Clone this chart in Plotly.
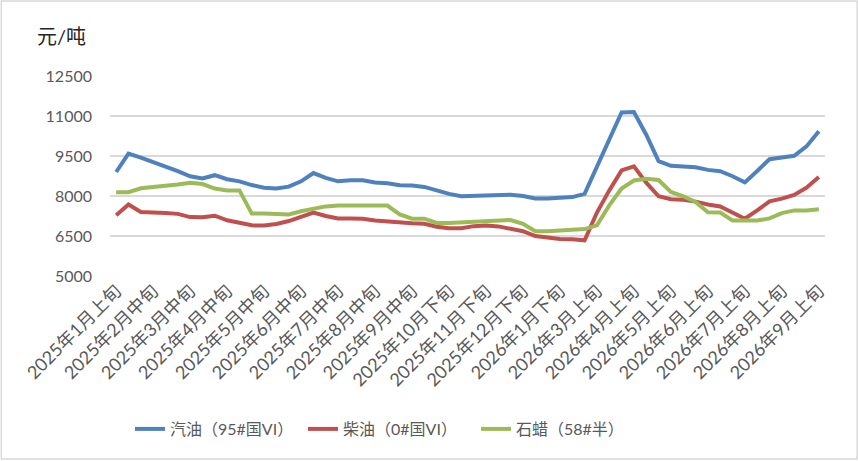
import plotly.graph_objs as go

# 旬度日期（横轴类目）
dates = [
    '2025年1月上旬', '2025年1月中旬', '2025年2月上旬', '2025年2月中旬', '2025年2月下旬',
    '2025年3月上旬', '2025年3月中旬', '2025年3月下旬', '2025年4月上旬', '2025年4月中旬',
    '2025年4月下旬', '2025年5月上旬', '2025年5月中旬', '2025年5月下旬', '2025年6月上旬',
    '2025年6月中旬', '2025年6月下旬', '2025年7月上旬', '2025年7月中旬', '2025年7月下旬',
    '2025年8月上旬', '2025年8月中旬', '2025年8月下旬', '2025年9月上旬', '2025年9月中旬',
    '2025年9月下旬', '2025年10月中旬', '2025年10月下旬', '2025年11月上旬', '2025年11月中旬',
    '2025年11月下旬', '2025年12月上旬', '2025年12月中旬', '2025年12月下旬', '2026年1月上旬',
    '2026年1月中旬', '2026年1月下旬', '2026年2月上旬', '2026年2月下旬', '2026年3月上旬',
    '2026年3月中旬', '2026年3月下旬', '2026年4月上旬', '2026年4月中旬', '2026年4月下旬',
    '2026年5月上旬', '2026年5月中旬', '2026年5月下旬', '2026年6月上旬', '2026年6月中旬',
    '2026年6月下旬', '2026年7月上旬', '2026年7月中旬', '2026年7月下旬', '2026年8月上旬',
    '2026年8月中旬', '2026年8月下旬', '2026年9月上旬',
]

gasoline = [
    8900, 9590, 9440, 9280, 9090, 8930, 8740, 8660, 8780, 8630,
    8550, 8410, 8310, 8280, 8350, 8550, 8860, 8680, 8550, 8590,
    8590, 8510, 8480, 8400, 8390, 8340, 8210, 8080, 7990, 8010,
    8030, 8050, 8050, 8000, 7910, 7910, 7930, 7960, 8080, 9100,
    10130, 11130, 11150, 10300, 9310, 9130, 9110, 9080, 8980, 8930,
    8740, 8510, 8940, 9380, 9440, 9510, 9860, 10430,
]

diesel = [
    7280, 7680, 7400, 7390, 7360, 7330, 7210, 7200, 7260, 7090,
    7010, 6900, 6890, 6950, 7060, 7210, 7380, 7250, 7160, 7160,
    7150, 7080, 7040, 7000, 6980, 6960, 6850, 6790, 6790, 6870,
    6890, 6860, 6780, 6680, 6500, 6450, 6390, 6380, 6340, 7380,
    8210, 8960, 9110, 8500, 7990, 7880, 7860, 7790, 7680, 7610,
    7400, 7150, 7460, 7800, 7900, 8040, 8310, 8710,
]

wax = [
    8140, 8140, 8290, 8330, 8360, 8430, 8500, 8450, 8280, 8210,
    8210, 7340, 7340, 7340, 7310, 7430, 7510, 7610, 7640, 7640,
    7640, 7640, 7640, 7310, 7150, 7150, 6990, 6990, 7010, 7040,
    7060, 7100, 7100, 6960, 6680, 6680, 6690, 6730, 6760, 6900,
    7650, 8280, 8580, 8650, 8600, 8150, 7990, 7780, 7390, 7380,
    7080, 7080, 7080, 7160, 7360, 7460, 7460, 7500,
]

series_names = ['汽油（95#国VI）', '柴油（0#国VI）', '石蜡（58#半）']
colors = ['#4F81BD', '#C0504D', '#9BBB59']

FONT = 'Lato, Noto Sans CJK SC, sans-serif'

fig = go.Figure()
for name, vals, c in zip(series_names, [gasoline, diesel, wax], colors):
    fig.add_trace(go.Scatter(x=dates, y=vals, name=name, mode='lines',
                             line=dict(color=c, width=4)))

# 每隔3个类目显示一个标签
shown = dates[::3]

fig.update_layout(
    width=858, height=461,
    margin=dict(l=110, r=33, t=76, b=185),
    paper_bgcolor='white', plot_bgcolor='white',
    font=dict(family=FONT, color='#595959'),
    showlegend=True,
    legend=dict(orientation='h', x=0.028, xanchor='left', y=-0.765, yanchor='middle',
                font=dict(size=16, color='#595959'), entrywidth=128),
    xaxis=dict(type='category', range=[-0.5, len(dates) - 0.5],
               tickmode='array', tickvals=shown, ticktext=shown,
               tickangle=-45, tickfont=dict(size=18, color='#595959'),
               showgrid=False, showline=False, zeroline=False, ticks=''),
    yaxis=dict(range=[5000, 12500], tickmode='linear', tick0=5000, dtick=1500,
               tickformat='d', tickfont=dict(size=16, color='#595959'),
               showgrid=True, gridcolor='#D9D9D9', gridwidth=1.5,
               showline=False, zeroline=False, ticks='', ticklabelstandoff=17),
    annotations=[dict(text='元/吨', xref='paper', yref='paper', x=-0.105, y=1.2,
                      xanchor='left', yanchor='middle', showarrow=False,
                      font=dict(size=20, color='#262626'))],
    shapes=[dict(type='rect', xref='paper', yref='paper',
                 x0=-0.152, x1=1.045, y0=-0.915, y1=1.375,
                 line=dict(color='#D9D9D9', width=1.5))],
)

# drop the default 8px body margin so the figure sits at the page corner
fig.write_html("out.html", config={'displayModeBar': False},
               post_script="document.body.style.margin='0';")
